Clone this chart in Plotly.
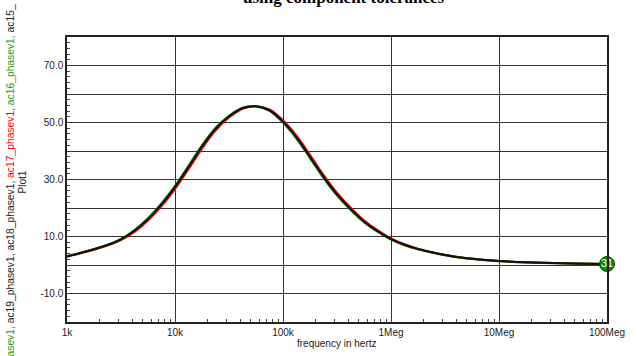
import plotly.graph_objects as go

# ---- data, 8 samples per decade ----
freq = [1000, 1334, 1778, 2371, 3162, 4217, 5623, 7499,
        10000, 13340, 17780, 23710, 31620, 42170, 56230, 74990,
        100000, 133400, 177800, 237100, 316200, 421700, 562300, 749900,
        1000000, 1334000, 1778000, 2371000, 3162000, 4217000, 5623000, 7499000,
        10000000, 17780000, 31620000, 56230000, 100000000]

phase_black = [3.0, 4.2, 5.5, 7.0, 9.0, 12.0, 16.1, 21.2,
               27.3, 34.3, 41.5, 47.7, 52.1, 55.0, 55.7, 54.3,
               50.3, 44.8, 38.0, 31.0, 24.8, 19.7, 15.3, 11.9,
               9.1, 7.1, 5.6, 4.45, 3.5, 2.75, 2.2, 1.75,
               1.4, 0.95, 0.68, 0.48, 0.35]

phase_red = [2.88, 4.07, 5.36, 6.82, 8.75, 11.64, 15.64, 20.64,
             26.64, 33.59, 40.83, 47.17, 51.73, 54.82, 55.73, 54.57,
             50.78, 45.42, 38.69, 31.66, 25.37, 20.18, 15.69, 12.21,
             9.34, 7.28, 5.73, 4.55, 3.59, 2.82, 2.25, 1.79,
             1.43, 0.98, 0.70, 0.50, 0.36]

phase_green = [3.08, 4.28, 5.59, 7.12, 9.17, 12.24, 16.41, 21.57,
               27.74, 34.77, 41.95, 48.05, 52.34, 55.12, 55.68, 54.12,
               49.98, 44.39, 37.54, 30.56, 24.42, 19.38, 15.04, 11.69,
               8.94, 6.98, 5.51, 4.38, 3.44, 2.70, 2.17, 1.72,
               1.38, 0.93, 0.66, 0.47, 0.34]

run_count_label = "31"

x_tickvals = [1e3, 1e4, 1e5, 1e6, 1e7, 1e8]
x_ticktext = ["1k", "10k", "100k", "1Meg", "10Meg", "100Meg"]
y_tickvals = [-10, 0, 10, 20, 30, 40, 50, 60, 70]
y_ticktext = ["-10.0", "", "10.0", "", "30.0", "", "50.0", "", "70.0"]

GREEN = "#007a00"
TEXT_GREEN = "#1f9a1f"
RED = "#ff0000"
FONT = "Liberation Sans, Arial, sans-serif"

fig = go.Figure()
fig.add_trace(go.Scatter(x=freq, y=phase_red, mode="lines", line=dict(color=RED, width=2, shape="spline"),
                         showlegend=False, hoverinfo="skip"))
fig.add_trace(go.Scatter(x=freq, y=phase_green, mode="lines", line=dict(color=GREEN, width=2.2, shape="spline"),
                         showlegend=False, hoverinfo="skip"))
fig.add_trace(go.Scatter(x=freq, y=phase_black, mode="lines", line=dict(color="#111111", width=2, shape="spline"),
                         showlegend=False, hoverinfo="skip"))
fig.add_trace(go.Scatter(x=[freq[-1]], y=[phase_green[-1]], mode="markers+text",
                         marker=dict(size=15, color="#0a8a0a", line=dict(color="#005000", width=1)),
                         text=[run_count_label], textposition="middle center",
                         textfont=dict(color="white", size=11, family=FONT),
                         cliponaxis=False, showlegend=False, hoverinfo="skip"))

minor_x = [m * d for d in [1e3, 1e4, 1e5, 1e6, 1e7] for m in range(2, 10)]

fig.update_layout(
    width=637, height=356,
    margin=dict(l=67, r=27, t=37, b=34),
    paper_bgcolor="white", plot_bgcolor="white",
    font=dict(family=FONT, size=10, color="#222222"),
    xaxis=dict(type="log", range=[3, 8], tickmode="array", tickvals=x_tickvals, ticktext=x_ticktext,
               showgrid=True, gridcolor="#333333", gridwidth=1,
               showline=True, linecolor="#222222", linewidth=1.5, mirror=True,
               ticks="inside", ticklen=3, tickcolor="#444444",
               minor=dict(tickmode="array", tickvals=minor_x, ticks="inside", ticklen=3,
                          tickcolor="#444444", showgrid=False),
               zeroline=False, tickfont=dict(size=10, family=FONT)),
    yaxis=dict(range=[-20, 80], tickmode="array", tickvals=y_tickvals, ticktext=y_ticktext,
               showgrid=True, gridcolor="#333333", gridwidth=1,
               showline=True, linecolor="#222222", linewidth=1.5, mirror=True,
               ticks="inside", ticklen=3, tickcolor="#444444",
               minor=dict(dtick=2, ticks="inside", ticklen=3, tickcolor="#444444", showgrid=False),
               zeroline=False, tickfont=dict(size=10, family=FONT)),
    annotations=[
        dict(text="<b>using component tolerances</b>", xref="paper", yref="paper", x=0.513, y=1,
             yshift=40, xanchor="center", yanchor="middle", showarrow=False,
             font=dict(family="Liberation Serif, Times New Roman, serif", size=17, color="black")),
        dict(text="frequency in hertz", xref="paper", yref="paper", x=0.5, y=0, yshift=-21,
             xanchor="center", yanchor="middle", showarrow=False, font=dict(size=10, family=FONT, color="#222222")),
        dict(text="Plot1", xref="paper", yref="paper", x=0, y=0.5, xshift=-45, yshift=-3,
             textangle=-90, xanchor="center", yanchor="middle", showarrow=False,
             font=dict(size=10, family=FONT, color="#222222")),
        dict(text=(f'<span style="color:{TEXT_GREEN}">asev1,</span> ac19_phasev1, ac18_phasev1, '
                   f'<span style="color:{RED}">ac17_phasev1,</span> '
                   f'<span style="color:{TEXT_GREEN}">ac16_phasev1,</span> ac15_'),
             xref="paper", yref="paper", x=0, y=0.5, xshift=-57, yshift=-1,
             textangle=-90, xanchor="center", yanchor="middle", showarrow=False,
             font=dict(size=10.3, family=FONT, color="#222222")),
    ],
)

fig.write_html("out.html")
